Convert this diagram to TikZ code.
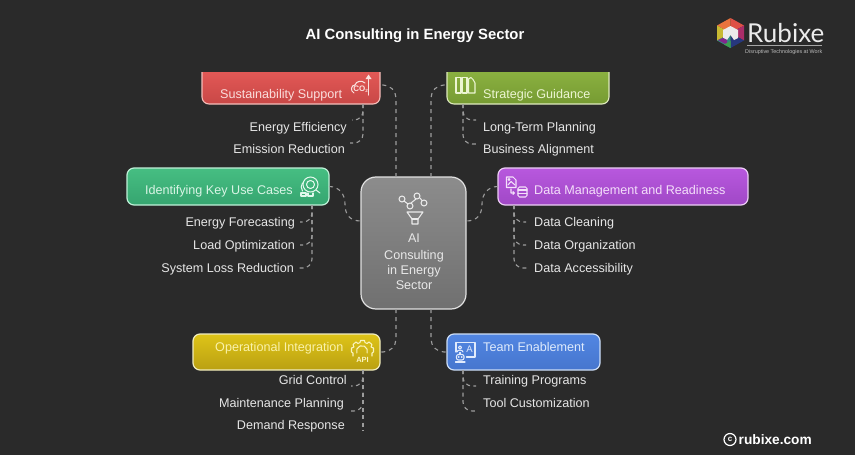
\documentclass[tikz,border=0pt]{standalone}
\usepackage{fontspec}
\setmainfont{Liberation Sans}
\newfontfamily\logofont{Lato}
\usetikzlibrary{calc}
\definecolor{bgc}{HTML}{2A2A2A}
\definecolor{conc}{HTML}{9C9C9C}
\definecolor{subc}{HTML}{E6E6E6}
\tikzset{
 x=1pt,y=-1pt,
 conn/.style={draw=conc,line width=1.1pt,dash pattern=on 4pt off 4pt,rounded corners=13pt},
 subconn/.style={draw=conc,line width=1.1pt,dash pattern=on 4pt off 3.5pt,rounded corners=9pt},
 boxbase/.style={inner sep=0pt,outer sep=0pt,rounded corners=7pt,line width=1.2pt},
 anchorbox/.style={inner sep=0pt,outer sep=0pt,rectangle},
 ttl/.style={inner sep=0pt,font=\fontsize{12.6}{14}\selectfont,text height=11pt,text depth=3pt},
 sub/.style={inner sep=0pt,font=\fontsize{12.6}{14}\selectfont,text=subc,text height=11pt,text depth=3pt},
 ico/.style={line width=1.05pt,line join=round,line cap=round},
}
\begin{document}
\begin{tikzpicture}
\useasboundingbox (0,0) rectangle (855,455);
\fill[bgc] (0,0) rectangle (855,455);
% title
\node[inner sep=0pt,text=white,font=\bfseries\fontsize{14.85}{16}\selectfont] (title) at (415,35.5) {AI Consulting in Energy Sector};
% boxes
\node[anchorbox,minimum width=178pt,minimum height=32pt] (red) at (291,88) {};
\node[anchorbox,minimum width=162pt,minimum height=32pt] (grn) at (528,88) {};
\shade[top color={rgb,255:red,226;green,88;blue,86},bottom color={rgb,255:red,200;green,72;blue,70}]
 (red.north west) -- (red.north east) -- ([yshift=7pt]red.south east) arc[start angle=0,end angle=90,radius=7pt,y radius=-7pt] -- ([xshift=7pt]red.south west) arc[start angle=90,end angle=180,radius=7pt,y radius=-7pt] -- cycle;
\draw[line width=1.1pt,draw={rgb,255:red,244;green,190;blue,186}] (red.north west) -- ([yshift=7pt]red.south west) arc[start angle=180,end angle=90,radius=7pt,y radius=-7pt] -- ([xshift=-7pt]red.south east) arc[start angle=90,end angle=0,radius=7pt,y radius=-7pt] -- (red.north east);
\shade[top color={rgb,255:red,138;green,176;blue,64},bottom color={rgb,255:red,118;green,155;blue,50}]
 (grn.north west) -- (grn.north east) -- ([yshift=7pt]grn.south east) arc[start angle=0,end angle=90,radius=7pt,y radius=-7pt] -- ([xshift=7pt]grn.south west) arc[start angle=90,end angle=180,radius=7pt,y radius=-7pt] -- cycle;
\draw[line width=1.1pt,draw={rgb,255:red,222;green,234;blue,190}] (grn.north west) -- ([yshift=7pt]grn.south west) arc[start angle=180,end angle=90,radius=7pt,y radius=-7pt] -- ([xshift=-7pt]grn.south east) arc[start angle=90,end angle=0,radius=7pt,y radius=-7pt] -- (grn.north east);
\node[boxbase,draw={rgb,255:red,190;green,240;blue,215},top color={rgb,255:red,70;green,190;blue,130},bottom color={rgb,255:red,54;green,165;blue,112},minimum width=202pt,minimum height=37pt] (teal) at (228,186.5) {};
\node[boxbase,draw={rgb,255:red,236;green,205;blue,245},top color={rgb,255:red,184;green,88;blue,222},bottom color={rgb,255:red,160;green,72;blue,198},minimum width=250pt,minimum height=37pt] (pur) at (623,186.5) {};
\node[boxbase,draw={rgb,255:red,240;green,236;blue,190},top color={rgb,255:red,222;green,196;blue,24},bottom color={rgb,255:red,186;green,160;blue,18},minimum width=187pt,minimum height=36pt] (yel) at (286.5,352) {};
\node[boxbase,draw={rgb,255:red,205;green,222;blue,246},top color={rgb,255:red,82;green,134;blue,226},bottom color={rgb,255:red,70;green,118;blue,206},minimum width=153pt,minimum height=36pt] (blu) at (523.5,352) {};
\node[boxbase,rounded corners=15pt,draw={rgb,255:red,225;green,225;blue,225},top color={rgb,255:red,140;green,140;blue,140},bottom color={rgb,255:red,112;green,112;blue,112},minimum width=105pt,minimum height=132pt] (cen) at (413.5,243) {};
% box titles
\node[ttl,anchor=west,text={rgb,255:red,250;green,222;blue,220}] (t1) at (220,94) {Sustainability Support};
\node[ttl,anchor=west,text={rgb,255:red,236;green,245;blue,210}] (t2) at (483,94) {Strategic Guidance};
\node[ttl,anchor=east,text={rgb,255:red,218;green,245;blue,230}] (t3) at (293,190) {Identifying Key Use Cases};
\node[ttl,anchor=west,text={rgb,255:red,244;green,222;blue,250}] (t4) at (534,190) {Data Management and Readiness};
\node[ttl,anchor=west,text={rgb,255:red,250;green,242;blue,170}] (t5) at (215,347) {Operational Integration};
\node[ttl,anchor=west,text={rgb,255:red,222;green,234;blue,252}] (t6) at (483,347) {Team Enablement};
\node[inner sep=0pt,align=center,text={rgb,255:red,232;green,232;blue,232},font=\fontsize{12.6}{15}\selectfont] (t0) at (414,261.5) {AI\\[1.5pt]Consulting\\in Energy\\Sector};
% items
\node[sub,anchor=east] (a1) at (347,127) {Energy Efficiency};
\node[sub,anchor=east] (a2) at (345,149) {Emission Reduction};
\node[sub,anchor=west] (b1) at (483,127) {Long-Term Planning};
\node[sub,anchor=west] (b2) at (483,149) {Business Alignment};
\node[sub,anchor=east] (c1) at (295,222) {Energy Forecasting};
\node[sub,anchor=east] (c2) at (295,245) {Load Optimization};
\node[sub,anchor=east] (c3) at (294,268) {System Loss Reduction};
\node[sub,anchor=west] (d1) at (534,222) {Data Cleaning};
\node[sub,anchor=west] (d2) at (534,245) {Data Organization};
\node[sub,anchor=west] (d3) at (534,268) {Data Accessibility};
\node[sub,anchor=east] (e1) at (347,380) {Grid Control};
\node[sub,anchor=east] (e2) at (344,403) {Maintenance Planning};
\node[sub,anchor=east] (e3) at (345,425) {Demand Response};
\node[sub,anchor=west] (f1) at (483,380) {Training Programs};
\node[sub,anchor=west] (f2) at (483,403) {Tool Customization};
% main connectors
\coordinate (tm) at (345,204);
\coordinate (pm) at (482,204);
\draw[conn] ([xshift=-17.5pt]cen.north) |- ([yshift=3pt]red.east);
\draw[conn] ([xshift=17.5pt]cen.north) |- ([yshift=3pt]grn.west);
\draw[conn] ([xshift=-17.5pt]cen.south) |- (yel.east);
\draw[conn] ([xshift=17.5pt]cen.south) |- (blu.west);
\draw[conn,rounded corners=0pt] (teal.east) .. controls (339,186.5) and (345,194) .. (tm) .. controls (345,215) and (350,221) .. ([yshift=22pt]cen.west);
\draw[conn,rounded corners=0pt] (pur.west) .. controls (488,186.5) and (482,194) .. (pm) .. controls (482,215) and (477,221) .. ([yshift=22pt]cen.east);
% item connectors
\draw[subconn] ([xshift=72pt]red.south) |- ([xshift=5pt,yshift=7pt]a1.east);
\draw[subconn] ([xshift=72pt]red.south) |- ([xshift=5pt,yshift=6pt]a2.east);
\draw[subconn] ([xshift=-65pt]grn.south) |- ([xshift=-7pt,yshift=7pt]b1.west);
\draw[subconn] ([xshift=-65pt]grn.south) |- ([xshift=-7pt,yshift=5pt]b2.west);
\draw[subconn] ([xshift=84pt]teal.south) |- ([xshift=5pt]c1.east);
\draw[subconn] ([xshift=84pt]teal.south) |- ([xshift=5pt]c2.east);
\draw[subconn] ([xshift=84pt]teal.south) |- ([xshift=5pt]c3.east);
\draw[subconn] ([xshift=-109pt]pur.south) |- ([xshift=-8pt]d1.west);
\draw[subconn] ([xshift=-109pt]pur.south) |- ([xshift=-8pt]d2.west);
\draw[subconn] ([xshift=-109pt]pur.south) |- ([xshift=-6pt]d3.west);
\draw[subconn] ([xshift=76.5pt]yel.south) |- ([xshift=4pt,yshift=-6pt]e1.east);
\draw[subconn] ([xshift=76.5pt]yel.south) |- ([xshift=7pt,yshift=-8pt]e2.east);
\draw[subconn] ([xshift=76.5pt]yel.south) -- ([xshift=18pt,yshift=-6pt]e3.east);
\draw[subconn] ([xshift=-60.5pt]blu.south) |- ([xshift=-7pt,yshift=-6pt]f1.west);
\draw[subconn] ([xshift=-60.5pt]blu.south) |- ([xshift=-7pt,yshift=-8pt]f2.west);
% icons: centre
\begin{scope}[ico,draw={rgb,255:red,235;green,235;blue,235}]
 \draw (402,199) circle[radius=3];
 \draw (410,206) circle[radius=3];
 \draw (417,196) circle[radius=3];
 \draw (424,203) circle[radius=3];
 \draw (404,201) -- (408,204) (411,203) -- (416,199) (420,198) -- (422,200.5);
 \draw (407,212) -- (423,212) -- (418,219) -- (418,224) -- (412,224) -- (412,219) -- cycle;
 \draw (412,219) -- (418,219);
\end{scope}
% icons: red
\begin{scope}[ico,draw={rgb,255:red,250;green,225;blue,222}]
 \draw (354,93) .. controls (350,91) and (351,85) .. (355,85) .. controls (356,81) and (362,80) .. (365,83);
 \draw[line width=1.4pt] (368.5,95) -- (368.5,78);
 \fill[fill={rgb,255:red,250;green,225;blue,222}] (368.5,74.5) -- (371.5,79) -- (365.5,79) -- cycle;
 \node[inner sep=0pt,text={rgb,255:red,250;green,225;blue,222},font=\bfseries\fontsize{8}{8}\selectfont] (ico1) at (360.5,89.5) {CO\raisebox{-1pt}{\fontsize{4.5}{4}\selectfont 2}};
\end{scope}
% icons: green
\begin{scope}[ico,draw={rgb,255:red,236;green,245;blue,210}]
 \draw (456,77.5) rectangle (461,93);
 \draw (462.5,77.5) rectangle (467,93);
 \draw (468.5,93) -- (468.5,79) -- (471,77.5) -- (473,79.5) -- (475,83) -- (475,93) -- cycle;
\end{scope}
% icons: teal
\begin{scope}[ico,draw={rgb,255:red,225;green,247;blue,235}]
 \draw (310.5,184.5) circle[radius=7.5];
 \draw (310.5,184.5) circle[radius=4];
 \draw (316,190) -- (320,193);
 \draw (302.5,191) arc[start angle=145,end angle=215,radius=7];
 \draw (301,193) rectangle (306,196);
 \draw (308,193) -- (308,196) -- (313,196) -- (313,193);
\end{scope}
% icons: purple
\begin{scope}[ico,draw={rgb,255:red,244;green,225;blue,250}]
 \draw (506.5,177) -- (513,177) -- (516,180) -- (516,187.5) -- (506.5,187.5) -- cycle;
 \draw (508,185) -- (511,181.5) -- (515,185);
 \draw (509,179.5) circle[radius=1];
 \draw (511,189) -- (511,193) -- (514,193) (513,191.5) -- (514.5,193) -- (513,194.5);
 \draw[rounded corners=1.5pt] (518,187) rectangle (527,197);
 \draw (518,190) -- (527,190) (518,193.5) -- (527,193.5);
\end{scope}
% icons: yellow
\begin{scope}[ico,draw={rgb,255:red,250;green,244;blue,190}]
 \draw (353,356) -- (353,353) -- (351.5,352) -- (351.5,348) -- (354,347) -- (353,344.5) -- (356,342) -- (358,343.5) -- (360,342.5) -- (360.5,340.5) -- (364.5,340.5) -- (365,342.5) -- (367,343.5) -- (369,342) -- (372,344.5) -- (371,347) -- (373.5,348) -- (373.5,352) -- (372,353) -- (372,356);
 \draw (356.8,353) arc[start angle=160,end angle=380,radius=5.5];
 \node[inner sep=0pt,text={rgb,255:red,250;green,244;blue,190},font=\bfseries\fontsize{7.5}{8}\selectfont] (ico5) at (362.5,360) {API};
\end{scope}
% icons: blue
\begin{scope}[ico,draw={rgb,255:red,225;green,235;blue,252}]
 \draw (456,352) -- (456,342.5) -- (475,342.5) -- (475,357) -- (466.5,357);
 \node[inner sep=0pt,text={rgb,255:red,225;green,235;blue,252},font=\fontsize{9.5}{9}\selectfont] (ico6) at (469.5,349) {A};
 \draw (460,347.5) circle[radius=1.6];
 \draw (457,352) .. controls (457,349.5) and (463,349.5) .. (463,352);
 \draw[rounded corners=2pt] (456.5,354.5) rectangle (464,360);
 \draw (460,352.5) -- (460,354.5);
 \draw (455.5,362) -- (465,362);
 \draw (458.5,357) -- (459,357) (461.5,357) -- (462,357);
\end{scope}
% logo
\begin{scope}
 \coordinate (H) at (730.5,33);
 \fill[fill={rgb,255:red,232;green,115;blue,60}] (H) -- ++(-13.5,-7.5) -- ++(13.5,-7.5) -- cycle;
 \fill[fill={rgb,255:red,222;green,80;blue,70}] (H) -- ++(0,-15) -- ++(13.5,7.5) -- cycle;
 \fill[fill={rgb,255:red,170;green,45;blue,105}] (H) -- ++(13.5,-7.5) -- ++(0,15) -- cycle;
 \fill[fill={rgb,255:red,38;green,55;blue,125}] (H) -- ++(13.5,7.5) -- ++(-13.5,7.5) -- cycle;
 \fill[fill={rgb,255:red,50;green,140;blue,130}] (H) -- ++(0,15) -- ++(-13.5,-7.5) -- cycle;
 \fill[fill={rgb,255:red,200;green,185;blue,50}] (H) -- ++(-13.5,7.5) -- ++(0,-15) -- cycle;
 \fill[fill={rgb,255:red,235;green,235;blue,235}] (723,30) -- (730.5,26) -- (738,30) -- (738,38) -- (734,40) -- (730.5,35) -- (727,40) -- (723,38) -- cycle;
 \fill[fill={rgb,255:red,130;green,40;blue,140}] (718,40) -- (723,38) -- (727,40) -- (727,45) -- cycle;
 \fill[fill={rgb,255:red,60;green,160;blue,80}] (724,44.5) -- (730.5,48) -- (730.5,41) -- cycle;
\end{scope}
\node[inner sep=0pt,anchor=west,text={rgb,255:red,235;green,235;blue,235},font=\logofont\fontsize{26}{28}\selectfont] (logo) at (747,33) {Rubixe};
\draw[draw={rgb,255:red,165;green,165;blue,165},line width=1pt] (747,45.5) -- (822,45.5);
\node[inner sep=0pt,anchor=west,text={rgb,255:red,190;green,190;blue,190},font=\fontsize{5.4}{6}\selectfont] (tag) at (745,52) {Disruptive Technologies at Work};
\draw[draw=white,line width=1.2pt] (730,439.5) circle[radius=6];
\node[inner sep=0pt,text=white,font=\bfseries\fontsize{8}{9}\selectfont] (crc) at (730,439.5) {c};
\node[inner sep=0pt,anchor=west,text=white,font=\bfseries\fontsize{13.7}{14}\selectfont] (cr) at (738.5,439.5) {rubixe.com};
\end{tikzpicture}
\end{document}
